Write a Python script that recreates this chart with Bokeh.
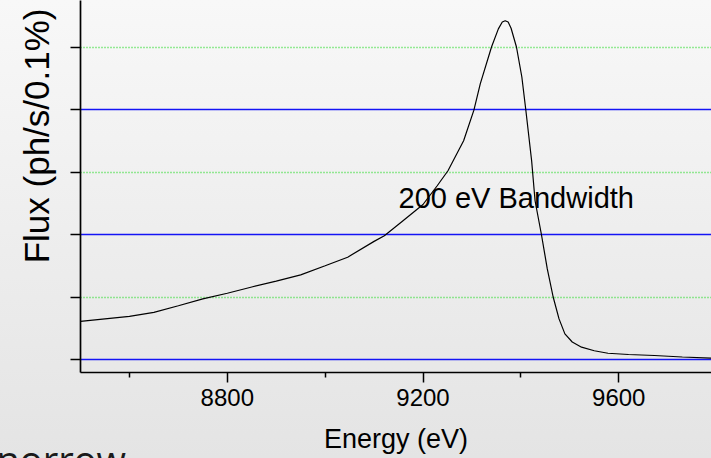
import math
from bokeh.plotting import figure
from bokeh.models import Range1d, FixedTicker, Label, Title, GlobalInlineStyleSheet
from bokeh.embed import file_html
from bokeh.resources import INLINE

# ---- data ----
energy = [8500, 8550, 8600, 8650, 8700, 8750, 8800, 8850, 8900, 8950, 9000, 9046,
          9100, 9121, 9156, 9200, 9229, 9251, 9283, 9304, 9317, 9340, 9354, 9362,
          9368, 9374, 9380, 9391, 9402, 9410, 9422, 9429, 9442, 9454, 9466, 9478,
          9490, 9505, 9524, 9550, 9578, 9620, 9673, 9730, 9790]
flux = [0.61, 0.65, 0.69, 0.755, 0.86, 0.97, 1.06, 1.16, 1.255, 1.355, 1.50, 1.637,
        1.89, 1.98, 2.20, 2.48, 2.78, 3.02, 3.50, 3.99, 4.41, 5.00, 5.29, 5.40,
        5.42, 5.40, 5.30, 5.00, 4.52, 4.00, 3.18, 2.54, 2.00, 1.45, 1.00, 0.65,
        0.41, 0.28, 0.197, 0.14, 0.10, 0.08, 0.064, 0.04, 0.02]

x_major = [8800, 9200, 9600]
x_minor = [8600, 9000, 9400, 9800]
y_ticks = [0, 1, 2, 3, 4, 5]
y_solid = [0, 2, 4]
y_dotted = [1, 3, 5]

x_title = "Energy (eV)"
y_title = "Flux (ph/s/0.1%)"
note = "200 eV Bandwidth"
slide_text = "norrow"

FONT = "Liberation Sans"

p = figure(width=711, height=458, output_backend="svg", toolbar_location=None,
           x_range=Range1d(8500, 9789.6), y_range=Range1d(-0.208, 5.744),
           min_border_left=80, min_border_right=0, min_border_top=0,
           min_border_bottom=86)
p.background_fill_color = None
p.border_fill_color = None
p.outline_line_color = None
p.stylesheets = [GlobalInlineStyleSheet(css="html,body{background:linear-gradient(#f8f8f8,#e4e4e4) fixed;}")]

p.xgrid.visible = False
p.ygrid.visible = False

# horizontal reference lines (solid blue / dotted green)
p.hspan(y=y_dotted, line_color="#33dd33", line_width=1.3, line_dash="1 2")
p.hspan(y=y_solid, line_color="#1414f5", line_width=1.3)

p.line(energy, flux, line_color="black", line_width=1.2)

# x axis
xa = p.xaxis[0]
xa.ticker = FixedTicker(ticks=x_major, minor_ticks=x_minor)
xa.axis_line_width = 1.7
xa.axis_line_color = "black"
xa.major_tick_in = 0
xa.major_tick_out = 10
xa.major_tick_line_width = 1.5
xa.minor_tick_in = 0
xa.minor_tick_out = 5
xa.minor_tick_line_width = 1.5
xa.major_label_text_font = FONT
xa.major_label_text_font_size = "24px"
xa.major_label_text_color = "black"
xa.major_label_standoff = 6
xa.axis_label = x_title
xa.axis_label_text_font = FONT
xa.axis_label_text_font_size = "27px"
xa.axis_label_text_font_style = "normal"
xa.axis_label_text_color = "black"
xa.axis_label_standoff = 15

# y axis (no tick labels)
ya = p.yaxis[0]
ya.ticker = FixedTicker(ticks=y_ticks, minor_ticks=[])
ya.axis_line_width = 1.7
ya.axis_line_color = "black"
ya.major_tick_in = 0
ya.major_tick_out = 10
ya.major_tick_line_width = 1.5
ya.major_label_overrides = {t: "" for t in y_ticks}

# y title, placed toward the top like the reference
p.add_layout(Title(text=y_title, align="right", offset=8, standoff=29,
                   text_font=FONT, text_font_size="35px", text_font_style="normal",
                   text_color="black"), "left")

p.add_layout(Label(x=9150, y=2.59, text=note, text_align="left",
                   text_baseline="alphabetic", text_font=FONT,
                   text_font_size="29px", text_color="black"))

# slide text peeking in at the bottom-left corner
p.add_layout(Title(text=slide_text, align="left", vertical_align="bottom",
                   standoff=-52, offset=-84,
                   text_font="Open Sans", text_font_size="38px", text_font_style="normal",
                   text_color="#1a1a1a"), "below")

open("out.html", "w").write(file_html(p, INLINE))
